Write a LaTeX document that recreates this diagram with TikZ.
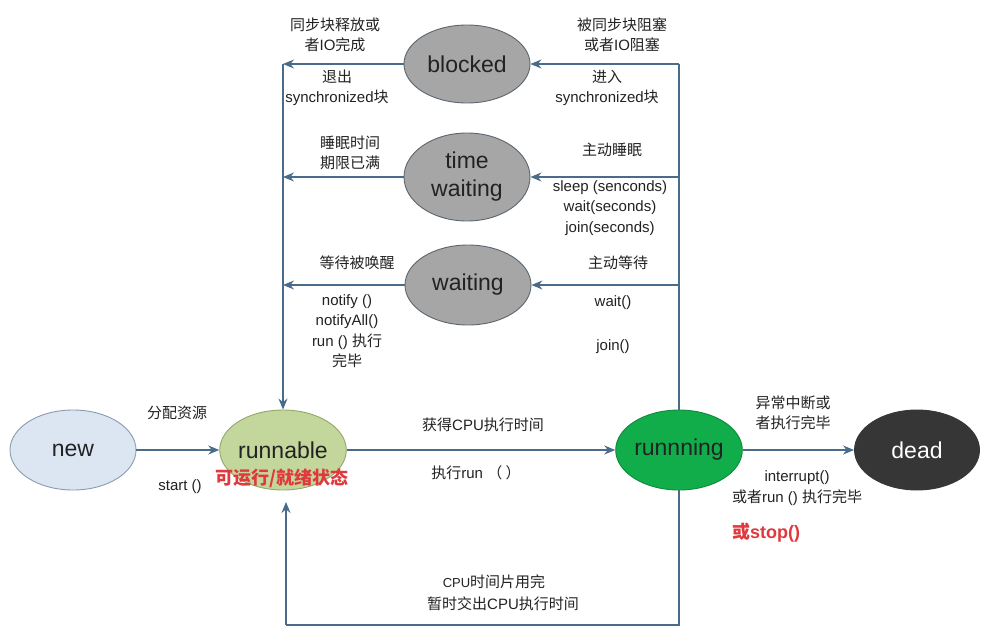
\documentclass[tikz,border=0pt]{standalone}
\usepackage{fontspec}
\setmainfont{Liberation Sans}
\newfontfamily\cjk{Noto Sans CJK SC}
\usetikzlibrary{shapes.geometric,arrows.meta}
\newcommand\zh[1]{{\cjk #1}}
\definecolor{ln}{HTML}{4A6B8A}
\definecolor{newfill}{HTML}{DCE6F2}
\definecolor{newdraw}{HTML}{8A9BB0}
\definecolor{runfill}{HTML}{C3D69B}
\definecolor{rundraw}{HTML}{93A86A}
\definecolor{gofill}{HTML}{12AD4B}
\definecolor{godraw}{HTML}{0E8A3B}
\definecolor{deadfill}{HTML}{363636}
\definecolor{grayfill}{HTML}{A6A6A6}
\definecolor{graydraw}{HTML}{5C6670}
\definecolor{redtxt}{HTML}{E0383D}
\definecolor{txt}{HTML}{222222}
\begin{document}
\begin{tikzpicture}[x=1pt,y=-1pt,
  st/.style={ellipse, inner sep=0pt, minimum width=126pt, minimum height=80pt,
    font=\fontsize{23}{28}\selectfont, line width=0.9pt, align=center, text=txt},
  conn/.style={draw=ln, line width=1.1pt},
  arr/.style={conn, -{Stealth[length=11pt,width=9pt]}, fill=ln},
  lbl/.style={font=\fontsize{15}{20.5}\selectfont, align=center, inner sep=0pt, text=txt},
  redlbl/.style={font=\fontsize{18}{22}\selectfont\bfseries, inner sep=0pt, text=redtxt}]
\useasboundingbox[fill=white] (0,0) rectangle (987,643);

% states
\node[st, fill=newfill, draw=newdraw] (new) at (73,450) {new};
\node[st, fill=runfill, draw=rundraw] (runnable) at (283,450) {runnable};
\node[st, fill=gofill, draw=godraw] (running) at (679,450) {runnning};
\node[st, fill=deadfill, draw=deadfill, text=white, minimum width=125pt] (dead) at (917,450) {dead};
\node[st, fill=grayfill, draw=graydraw, minimum height=78pt] (blocked) at (467,64) {blocked};
\node[st, fill=grayfill, draw=graydraw, minimum height=88pt] (twait) at (467,177) {time\\waiting};
\node[st, fill=grayfill, draw=graydraw] (waiting) at (468,285) {waiting};

% junctions
\coordinate (lb) at (283,64);
\coordinate (lt) at (283,177);
\coordinate (lw) at (283,285);
\coordinate (rb) at (679,64);
\coordinate (rt) at (679,177);
\coordinate (rw) at (679,285);
\coordinate (rbot) at (679,625);
\coordinate (lbot) at (286,625);
\coordinate (lup) at (286,502);

% connectors
\draw[arr] (new) -- (runnable);
\draw[arr] (runnable) -- (running);
\draw[arr] (running) -- (dead);
\draw[conn] (running.north) -- (rb);
\draw[arr] (rb) -- (blocked.east);
\draw[arr] (rt) -- (twait.east);
\draw[arr] (rw) -- (waiting.east);
\draw[arr] (blocked.west) -- (lb);
\draw[arr] (twait.west) -- (lt);
\draw[arr] (waiting.west) -- (lw);
\draw[arr] (lb) -- (runnable.north);
\draw[conn] (running.south) -- (rbot) -- (lbot);
\draw[arr] (lbot) -- (lup);

% labels
\node[lbl] (bl1) at (335,35) {\zh{同步块释放或}\\\zh{者}IO\zh{完成}};
\node[lbl] (bl2) at (337,88) {\zh{退出}\\synchronized\zh{块}};
\node[lbl] (br1) at (622,35) {\zh{被同步块阻塞}\\\zh{或者}IO\zh{阻塞}};
\node[lbl] (br2) at (607,88) {\zh{进入}\\synchronized\zh{块}};
\node[lbl] (tl) at (350,153) {\zh{睡眠时间}\\\zh{期限已满}};
\node[lbl] (tr1) at (612,150) {\zh{主动睡眠}};
\node[lbl] (tr2) at (610,208) {sleep (senconds)\\wait(seconds)\\join(seconds)};
\node[lbl] (wl1) at (357,263) {\zh{等待被唤醒}};
\node[lbl] (wl2) at (347,331) {notify ()\\notifyAll()\\run () \zh{执行}\\\zh{完毕}};
\node[lbl] (wr1) at (618,263) {\zh{主动等待}};
\node[lbl] (wr2) at (613,303) {wait()};
\node[lbl] (wr3) at (613,347) {join()};
\node[lbl] (alloc) at (177,413) {\zh{分配资源}};
\node[lbl] (start) at (180,487) {start ()};
\node[redlbl] (ready) at (282,478) {\zh{可运行/就绪状态}};
\node[lbl] (cpu) at (483,425) {\zh{获得}CPU\zh{执行时间}};
\node[lbl] (exec) at (476,473) {\zh{执行}run \zh{（ ）}};
\node[lbl] (slice1) at (494,582) {{\fontsize{13}{16}\selectfont CPU}\zh{时间片用完}};
\node[lbl] (slice2) at (503,604) {\zh{暂时交出}CPU\zh{执行时间}};
\node[lbl] (ex1) at (793,413) {\zh{异常中断或}\\\zh{者执行完毕}};
\node[lbl] (ex2) at (797,488) {interrupt()\\\zh{或者}run () \zh{执行完毕}};
\node[redlbl] (stop) at (766,533) {\zh{或}stop()};
\end{tikzpicture}
\end{document}
